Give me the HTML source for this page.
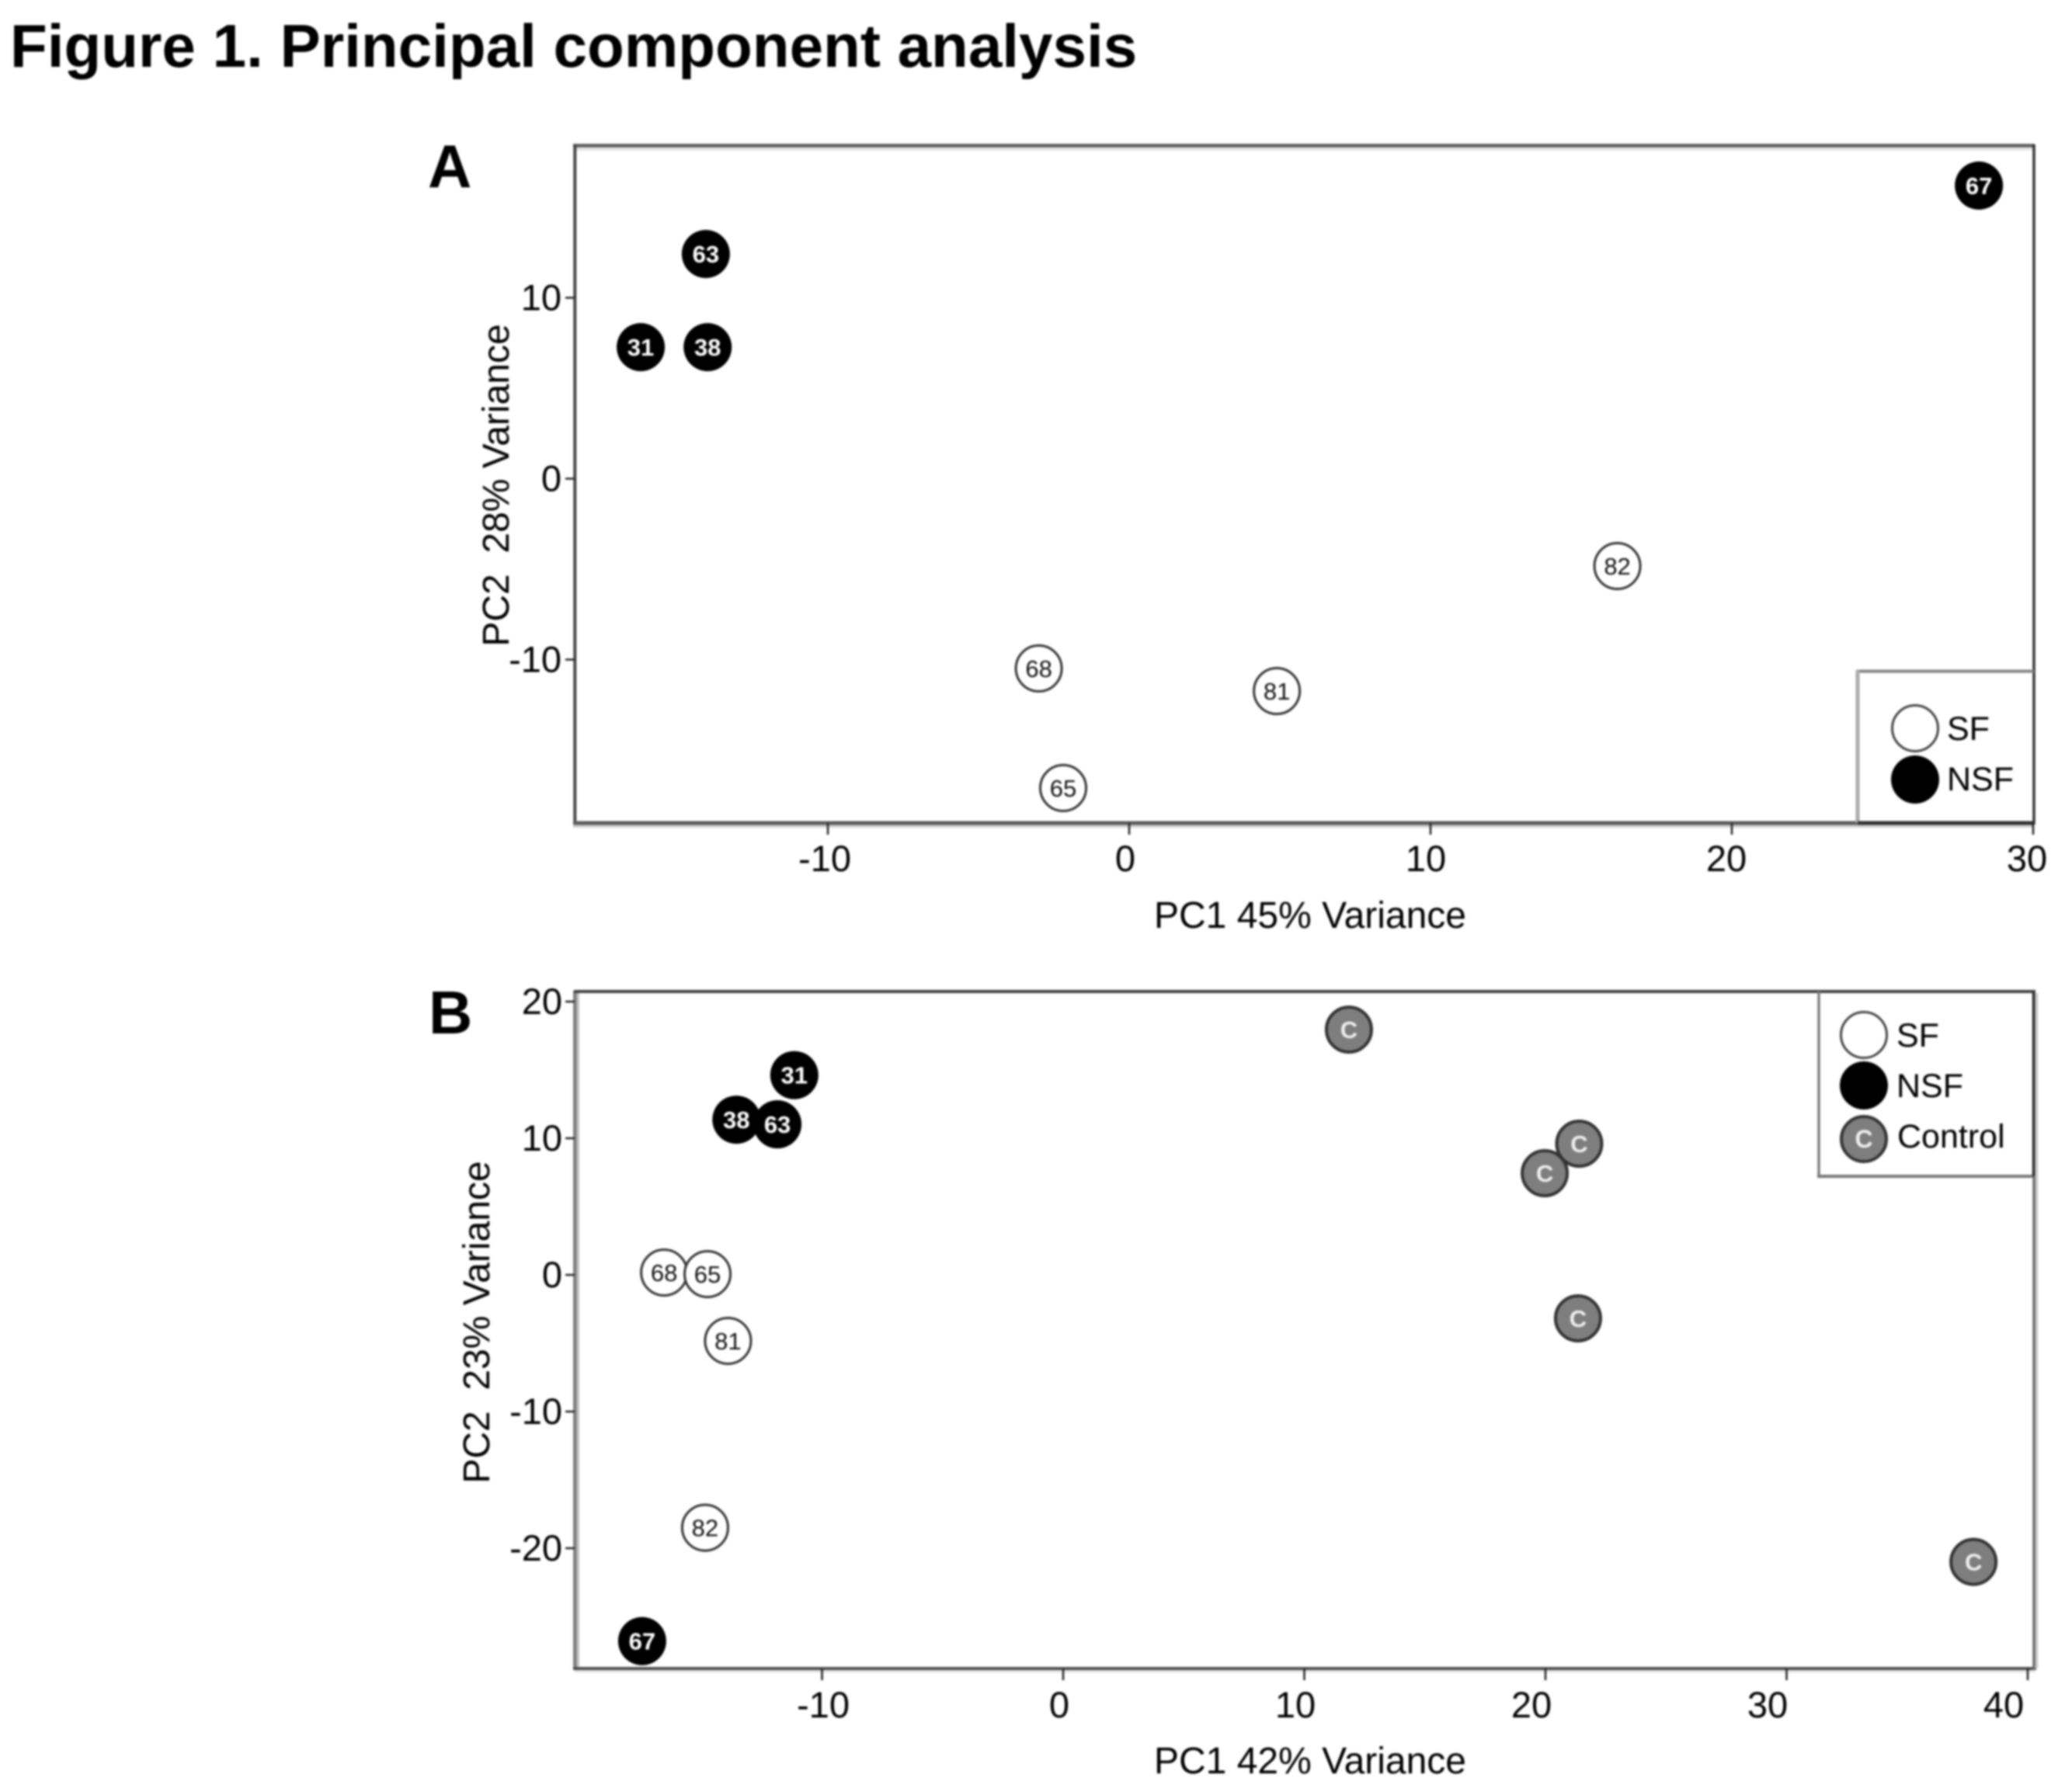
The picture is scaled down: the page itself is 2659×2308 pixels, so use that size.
<!DOCTYPE html>
<html lang="en">
<head>
<meta charset="utf-8">
<title>Figure 1. Principal component analysis</title>
<style>
html,body{margin:0;padding:0;background:#fff;width:2659px;height:2308px;overflow:hidden}
svg{display:block;filter:blur(1.3px)}
text{font-family:"Liberation Sans",Arial,sans-serif;fill:#000}
</style>
</head>
<body>
<svg id="figure" xmlns="http://www.w3.org/2000/svg" width="2659" height="2308" viewBox="0 0 2659 2308">
  <rect x="0" y="0" width="2659" height="2308" fill="#fff"/>
  <text x="13" y="86" font-size="78.2" font-weight="700" style="fill:#000">Figure 1. Principal component analysis</text>

  <g id="panel-a">
    <text x="551" y="241" font-size="78" font-weight="700" style="fill:#000">A</text>
    <rect x="740" y="189" width="1879" height="5" fill="#e6e6e6"/>
    <line x1="738" y1="187.5" x2="2620" y2="187.5" stroke="#5f5f5f" stroke-width="4.5"/>
    <line x1="740.3" y1="186" x2="740.3" y2="1062" stroke="#444" stroke-width="4"/>
    <line x1="738" y1="1064" x2="2619" y2="1064" stroke="#cfcfcf" stroke-width="4"/>
    <line x1="738" y1="1060" x2="2392" y2="1060" stroke="#5d5d5d" stroke-width="5"/>
    <line x1="2619" y1="186" x2="2619" y2="1062" stroke="#333" stroke-width="3.5"/>
    <g>
      <line x1="2391" y1="864.5" x2="2619" y2="864.5" stroke="#858585" stroke-width="4"/>
      <line x1="2392" y1="863" x2="2392" y2="1060" stroke="#aaa" stroke-width="5"/>
      <line x1="2392" y1="1060" x2="2619" y2="1060" stroke="#333" stroke-width="5"/>
      <circle cx="2466" cy="938" r="29.5" fill="#fff" stroke="#444" stroke-width="3"/>
      <text x="2507" y="953" font-size="43">SF</text>
      <circle cx="2466" cy="1004" r="31" fill="#000"/>
      <text x="2507" y="1018" font-size="43">NSF</text>
    </g>
    <text x="1687" y="1195" font-size="48" text-anchor="middle">PC1 45% Variance</text>
    <text transform="translate(655,625) rotate(-90)" font-size="48" text-anchor="middle">PC2&#160;&#160;28% Variance</text>
  </g>

  <g id="panel-b">
    <text x="552" y="1331" font-size="78" font-weight="700" style="fill:#000">B</text>
    <line x1="744" y1="1279" x2="744" y2="2149" stroke="#c4c4c4" stroke-width="4"/>
    <line x1="740.3" y1="1276" x2="740.3" y2="2151" stroke="#7d7d7d" stroke-width="4.5"/>
    <line x1="739" y1="1277" x2="2621" y2="1277" stroke="#404040" stroke-width="4"/>
    <line x1="740" y1="2153" x2="2620" y2="2153" stroke="#e6e6e6" stroke-width="3"/>
    <line x1="738" y1="2149" x2="2622" y2="2149" stroke="#4d4d4d" stroke-width="4"/>
    <line x1="2622.5" y1="1279" x2="2622.5" y2="2149" stroke="#cdcdcd" stroke-width="4"/>
    <line x1="2619" y1="1277" x2="2619" y2="2151" stroke="#6a6a6a" stroke-width="3.5"/>
    <g>
      <line x1="2342" y1="1277" x2="2342" y2="1516" stroke="#808080" stroke-width="3.5"/>
      <line x1="2340" y1="1515" x2="2620" y2="1515" stroke="#777" stroke-width="4"/>
      <line x1="2618.5" y1="1277" x2="2618.5" y2="1515" stroke="#333" stroke-width="3.5"/>
      <circle cx="2400" cy="1333" r="29.5" fill="#fff" stroke="#444" stroke-width="3"/>
      <text x="2442" y="1348" font-size="43">SF</text>
      <circle cx="2400" cy="1398" r="31" fill="#000"/>
      <text x="2442" y="1413" font-size="43">NSF</text>
      <circle cx="2400" cy="1467" r="29" fill="#7e7e7e" stroke="#333" stroke-width="4"/>
      <text x="2400" y="1478" font-size="32" font-weight="700" text-anchor="middle" style="fill:#eee">C</text>
      <text x="2443" y="1478" font-size="43">Control</text>
    </g>
    <text x="1687" y="2284" font-size="48" text-anchor="middle">PC1 42% Variance</text>
    <text transform="translate(630,1703) rotate(-90)" font-size="48" text-anchor="middle">PC2&#160;&#160;23% Variance</text>
  </g>
</svg>

<script>
// Panel A data
const aXTicks = [-10, 0, 10, 20, 30];
const aYTicks = [10, 0, -10];
const aSfLabels = ['68', '65', '81', '82'];
const aSfPc1 = [-3.0, -2.19, 4.9, 16.2];
const aSfPc2 = [-10.49, -17.1, -11.74, -4.83];
const aNsfLabels = ['31', '38', '63', '67'];
const aNsfPc1 = [-16.21, -13.99, -14.05, 28.2];
const aNsfPc2 = [7.27, 7.27, 12.42, 16.2];

// Panel B data
const bXTicks = [-10, 0, 10, 20, 30, 40];
const bYTicks = [20, 10, 0, -10, -20];
const bSfLabels = ['68', '65', '81', '82'];
const bSfPc1 = [-16.55, -14.75, -13.9, -14.85];
const bSfPc2 = [0.17, 0.06, -4.83, -18.5];
const bNsfLabels = ['31', '38', '63', '67'];
const bNsfPc1 = [-11.15, -13.55, -11.85, -17.46];
const bNsfPc2 = [14.62, 11.36, 11.02, -26.8];
const bControlLabels = ['C', 'C', 'C', 'C', 'C'];
const bControlPc1 = [11.85, 21.4, 19.97, 21.35, 37.75];
const bControlPc2 = [17.95, 9.6, 7.44, -3.18, -21.0];

const NS = 'http://www.w3.org/2000/svg';

// Axis functions
function aX(v) { return 1454 + 38.8 * v; }
function aY(v) { return 616.5 - 23.3 * v; }
function aXLabel(v) { return 1449 + 38.7 * v; }
function bX(v) { return 1369 + 31.05 * v; }
function bY(v) { return 1642 - 17.6 * v; }
function bXLabel(v) { return 1364 + 30.4 * v; }

function make(tag, attrs, parent) {
  const el = document.createElementNS(NS, tag);
  for (const k in attrs) el.setAttribute(k, attrs[k]);
  parent.appendChild(el);
  return el;
}

function drawXTicks(panel, prefix, ticks, xFn, labelFn, axisY, labelY) {
  ticks.forEach(function (v) {
    const tick = make('line', { x1: xFn(v), x2: xFn(v), y1: axisY, y2: axisY + 15, stroke: '#222', 'stroke-width': 2.5 }, panel);
    
    
    const label = make('text', { x: labelFn(v), y: labelY, 'font-size': 47, 'text-anchor': 'middle' }, panel);
    label.textContent = String(v);
    
    
  });
}

function drawYTicks(panel, prefix, ticks, yFn, axisX, labelRight) {
  ticks.forEach(function (v) {
    const tick = make('line', { x1: axisX - 12, x2: axisX, y1: yFn(v), y2: yFn(v), stroke: '#222', 'stroke-width': 2.5 }, panel);
    
    
    const label = make('text', { x: labelRight, y: yFn(v) + 16, 'font-size': 47, 'text-anchor': 'end' }, panel);
    label.textContent = String(v);
    
    
  });
}

function drawPoints(panel, prefix, group, labels, pc1, pc2, xFn, yFn) {
  labels.forEach(function (text, i) {
    const cx = xFn(pc1[i]);
    const cy = yFn(pc2[i]);
    const g = make('g', {}, panel);
    
    
    let fill = '#000', stroke = 'none', sw = 0, r = 31, color = '#fff', weight = 700;
    if (group === 'sf') { fill = '#fff'; stroke = '#333'; sw = 3; r = 29.5; color = '#111'; weight = 400; }
    if (group === 'control') { fill = '#7e7e7e'; stroke = '#333'; sw = 4; r = 29; color = '#eee'; weight = 700; }
    make('circle', { cx: cx, cy: cy, r: r, fill: fill, stroke: stroke, 'stroke-width': sw }, g);
    const label = make('text', { x: cx, y: cy + 11, 'font-size': 31, 'font-weight': weight, 'text-anchor': 'middle', style: 'fill:' + color }, g);
    label.textContent = text;
  });
}

const panelA = document.getElementById('panel-a');
const panelB = document.getElementById('panel-b');

drawXTicks(panelA, 'panel-a', aXTicks, aX, aXLabel, 1060, 1122);
drawYTicks(panelA, 'panel-a', aYTicks, aY, 740, 723);
drawPoints(panelA, 'panel-a', 'sf', aSfLabels, aSfPc1, aSfPc2, aX, aY);
drawPoints(panelA, 'panel-a', 'nsf', aNsfLabels, aNsfPc1, aNsfPc2, aX, aY);

drawXTicks(panelB, 'panel-b', bXTicks, bX, bXLabel, 2149, 2212);
drawYTicks(panelB, 'panel-b', bYTicks, bY, 740, 724);
drawPoints(panelB, 'panel-b', 'sf', bSfLabels, bSfPc1, bSfPc2, bX, bY);
drawPoints(panelB, 'panel-b', 'nsf', bNsfLabels, bNsfPc1, bNsfPc2, bX, bY);
drawPoints(panelB, 'panel-b', 'control', bControlLabels, bControlPc1, bControlPc2, bX, bY);
</script>
</body>
</html>
